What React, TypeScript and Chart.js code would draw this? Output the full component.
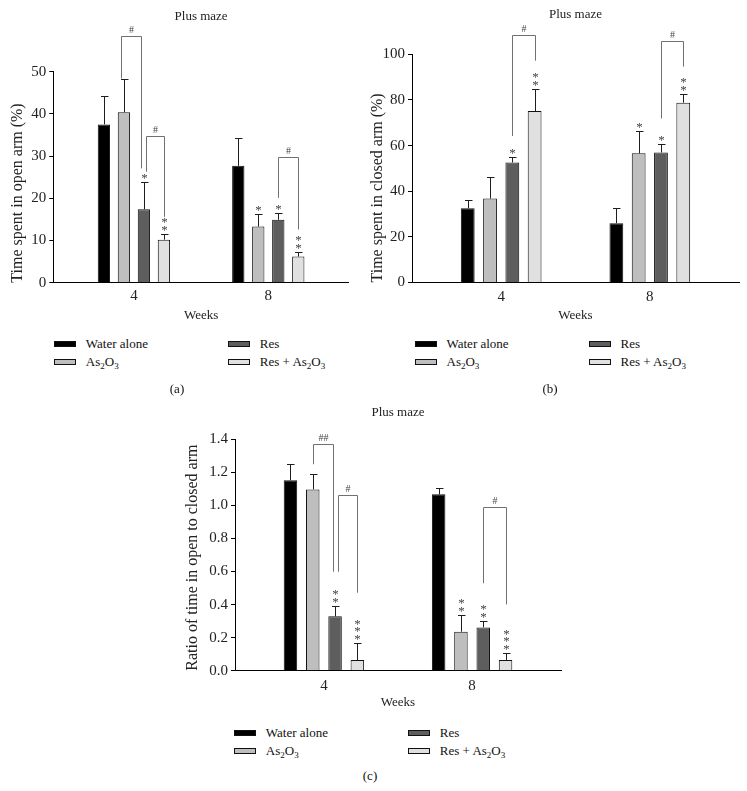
import React, { useEffect, useRef } from 'react';
import { Chart, registerables } from 'chart.js';

Chart.register(...registerables);

const FONT = '"Liberation Serif", "Times New Roman", serif';
Chart.defaults.font.family = FONT;
Chart.defaults.color = '#222';

// ---------- shared ----------
const weekLabels = ['4', '8'];
const seriesNames = ['Water alone', 'As2O3', 'Res', 'Res + As2O3'];
const seriesColors = ['#000000', '#bebebe', '#5e5e5e', '#e0e0e0'];

// ---------- panel (a): time spent in open arm (%) ----------
const openWater = [37.5, 27.7];
const openAs2O3 = [40.4, 13.3];
const openRes = [17.4, 14.9];
const openResAs2O3 = [10.2, 6.2];
const openWaterSem = [6.7, 6.5];
const openAs2O3Sem = [7.8, 3.0];
const openResSem = [6.4, 1.7];
const openResAs2O3Sem = [1.3, 1.0];
const openStars = [[0, 0], [0, 1], [1, 1], [2, 2]];
const openTicks = [0, 10, 20, 30, 40, 50];
const openBrackets = [
  { week: 0, from: 1, to: 2, top: 58.5, fromEnd: 48.4, toEnd: 27.1, label: '#', fromSide: -1, toSide: -1 },
  { week: 0, from: 2, to: 3, top: 34.8, fromEnd: 26.3, toEnd: 15.6, label: '#', fromSide: 1, toSide: 0 },
  { week: 1, from: 2, to: 3, top: 29.9, fromEnd: 20.1, toEnd: 12.6, label: '#', fromSide: 0, toSide: 0 },
];

// ---------- panel (b): time spent in closed arm (%) ----------
const closedWater = [32.5, 26.0];
const closedAs2O3 = [36.8, 56.6];
const closedRes = [52.6, 57.0];
const closedResAs2O3 = [75.1, 78.8];
const closedWaterSem = [3.6, 6.5];
const closedAs2O3Sem = [9.4, 9.9];
const closedResSem = [2.5, 3.5];
const closedResAs2O3Sem = [9.8, 3.7];
const closedStars = [[0, 0], [0, 1], [1, 1], [2, 2]];
const closedTicks = [0, 20, 40, 60, 80, 100];
const closedBrackets = [
  { week: 0, from: 2, to: 3, top: 108.3, fromEnd: 64.2, toEnd: 97.2, label: '#', fromSide: 0, toSide: 0 },
  { week: 1, from: 2, to: 3, top: 105.8, fromEnd: 71.9, toEnd: 94.6, label: '#', fromSide: 0, toSide: 0 },
];

// ---------- panel (c): ratio open / closed ----------
const ratioWater = [1.152, 1.067];
const ratioAs2O3 = [1.097, 0.236];
const ratioRes = [0.329, 0.262];
const ratioResAs2O3 = [0.065, 0.065];
const ratioWaterSem = [0.101, 0.041];
const ratioAs2O3Sem = [0.095, 0.099];
const ratioResSem = [0.064, 0.037];
const ratioResAs2O3Sem = [0.1, 0.04];
const ratioStars = [[0, 0], [0, 2], [2, 2], [3, 3]];
const ratioTicks = [0, 0.2, 0.4, 0.6, 0.8, 1.0, 1.2, 1.4];
const ratioBrackets = [
  { week: 0, from: 1, to: 2, top: 1.37, fromEnd: 1.249, toEnd: 0.599, label: '##', fromSide: 0, toSide: -1 },
  { week: 0, from: 2, to: 3, top: 1.061, fromEnd: 0.599, toEnd: 0.472, label: '#', fromSide: 1, toSide: 0 },
  { week: 1, from: 2, to: 3, top: 0.99, fromEnd: 0.529, toEnd: 0.401, label: '#', fromSide: 0, toSide: 0 },
];

// category slots used to place the two week groups along the axis
const SLOT_COUNT = 12;
const WEEK_SLOTS = [3, 8];
function toSlots(vals: any[], fill: any) {
  const arr = new Array(SLOT_COUNT).fill(fill);
  WEEK_SLOTS.forEach((s, i) => { arr[s] = vals[i]; });
  return arr;
}

const panels = [
  {
    key: 'a',
    values: [openWater, openAs2O3, openRes, openResAs2O3],
    errors: [openWaterSem, openAs2O3Sem, openResSem, openResAs2O3Sem],
    stars: openStars, brackets: openBrackets, yTicks: openTicks, decimals: 0,
    yTitle: 'Time spent in open arm (%)',
    box: { left: 0, top: 0, width: 370, height: 330 },
    pad: { left: 7.9, right: 21.1, top: 0, bottom: 6.2 },
    yWidth: 45.4, xHeight: 41.1, titlePad: { top: 8.9, bottom: 47.2 }, tickPad: 4,
    catPct: 2.977, barPct: 0.615,
  },
  {
    key: 'b',
    values: [closedWater, closedAs2O3, closedRes, closedResAs2O3],
    errors: [closedWaterSem, closedAs2O3Sem, closedResSem, closedResAs2O3Sem],
    stars: closedStars, brackets: closedBrackets, yTicks: closedTicks, decimals: 0,
    yTitle: 'Time spent in closed arm (%)',
    box: { left: 365, top: 0, width: 382, height: 330 },
    pad: { left: 3.4, right: 8, top: 0, bottom: 6.2 },
    yWidth: 43.6, xHeight: 41.3, titlePad: { top: 7.2, bottom: 31.5 }, tickPad: 6,
    catPct: 3.0, barPct: 0.619,
  },
  {
    key: 'c',
    values: [ratioWater, ratioAs2O3, ratioRes, ratioResAs2O3],
    errors: [ratioWaterSem, ratioAs2O3Sem, ratioResSem, ratioResAs2O3Sem],
    stars: ratioStars, brackets: ratioBrackets, yTicks: ratioTicks, decimals: 1,
    yTitle: 'Ratio of time in open to closed arm',
    box: { left: 175, top: 380, width: 400, height: 335 },
    pad: { left: 7.9, right: 14, top: 0, bottom: 4.2 },
    yWidth: 52.1, xHeight: 40.1, titlePad: { top: 24.5, bottom: 19.2 }, tickPad: 6,
    catPct: 3.01, barPct: 0.605,
  },
];

function makeAnnotPlugin(def: any) {
  return {
    id: 'sigAnnot',
    afterDatasetsDraw(chart: any) {
      const ctx = chart.ctx;
      const ys = chart.scales.y;
      const barX = (s: number, w: number) => chart.getDatasetMeta(s).data[WEEK_SLOTS[w]].x;
      ctx.save();
      // error bars + stars
      def.values.forEach((vals: number[], s: number) => {
        vals.forEach((v: number, w: number) => {
          const x = Math.round(barX(s, w)) + 0.5;
          const yTop = ys.getPixelForValue(v);
          const yErr = Math.round(ys.getPixelForValue(v + def.errors[s][w])) + 0.5;
          ctx.strokeStyle = '#1e1e1e';
          ctx.lineWidth = 1;
          ctx.beginPath();
          ctx.moveTo(x, yTop);
          ctx.lineTo(x, yErr);
          ctx.moveTo(x - 3.5, yErr);
          ctx.lineTo(x + 4, yErr);
          ctx.stroke();
          const n = def.stars[s][w];
          ctx.fillStyle = '#444';
          ctx.font = `13px ${FONT}`;
          ctx.textAlign = 'center';
          ctx.textBaseline = 'middle';
          for (let k = 0; k < n; k++) {
            ctx.fillText('*', x, yErr - 6.5 - k * 7.7 + 2.5);
          }
        });
      });
      // brackets
      def.brackets.forEach((b: any) => {
        const x1 = Math.round(barX(b.from, b.week) + b.fromSide * 2.5) + 0.5;
        const x2 = Math.round(barX(b.to, b.week) + b.toSide * 2.5) + 0.5;
        const yT = Math.round(ys.getPixelForValue(b.top)) + 0.5;
        ctx.strokeStyle = '#707070';
        ctx.lineWidth = 1;
        ctx.beginPath();
        ctx.moveTo(x1, ys.getPixelForValue(b.fromEnd));
        ctx.lineTo(x1, yT);
        ctx.lineTo(x2, yT);
        ctx.lineTo(x2, ys.getPixelForValue(b.toEnd));
        ctx.stroke();
        ctx.fillStyle = '#444';
        ctx.font = `10px ${FONT}`;
        ctx.textAlign = 'center';
        ctx.textBaseline = 'alphabetic';
        ctx.fillText(b.label, (x1 + x2) / 2, yT - 3.5);
      });
      ctx.restore();
    },
  };
}

function buildConfig(def: any) {
  const labels = toSlots(weekLabels, '');
  const yMin = def.yTicks[0];
  const yMax = def.yTicks[def.yTicks.length - 1];
  const yStep = def.yTicks[1] - def.yTicks[0];
  return {
    type: 'bar',
    data: {
      labels,
      datasets: def.values.map((vals: number[], i: number) => ({
        label: seriesNames[i],
        data: toSlots(vals, null),
        backgroundColor: seriesColors[i],
        borderColor: '#111',
        borderWidth: 1,
        categoryPercentage: def.catPct,
        barPercentage: def.barPct,
      })),
    },
    options: {
      responsive: false,
      animation: false,
      devicePixelRatio: 1,
      layout: { padding: def.pad },
      plugins: {
        legend: { display: false },
        tooltip: { enabled: false },
        title: {
          display: true,
          fullSize: false,
          text: 'Plus maze',
          color: '#222',
          font: { family: FONT, size: 13, weight: 'normal' },
          padding: def.titlePad,
        },
      },
      scales: {
        x: {
          offset: false,
          grid: { display: false, drawTicks: false },
          border: { display: true, color: '#000', width: 1 },
          ticks: {
            autoSkip: false,
            maxRotation: 0,
            padding: def.tickPad,
            color: '#222',
            font: { family: FONT, size: 15 },
          },
          title: {
            display: true,
            text: 'Weeks',
            color: '#222',
            font: { family: FONT, size: 13 },
            padding: { top: 0, bottom: 0 },
          },
          afterFit: (s: any) => { s.height = def.xHeight; },
        },
        y: {
          min: yMin,
          max: yMax,
          grid: { drawOnChartArea: false, drawTicks: true, tickLength: 4, color: '#000' },
          border: { display: true, color: '#000', width: 1 },
          ticks: {
            stepSize: yStep,
            padding: 3,
            color: '#222',
            font: { family: FONT, size: 15 },
            callback: (v: any) => Number(v).toFixed(def.decimals),
          },
          title: {
            display: true,
            text: def.yTitle,
            align: 'start',
            color: '#222',
            font: { family: FONT, size: 16 },
            padding: { top: 0, bottom: 0 },
          },
          afterFit: (s: any) => { s.width = def.yWidth; },
        },
      },
    },
    plugins: [makeAnnotPlugin(def)],
  };
}

function PanelChart({ def }: { def: any }) {
  const ref = useRef<HTMLCanvasElement | null>(null);
  useEffect(() => {
    const chart = new Chart(ref.current as HTMLCanvasElement, buildConfig(def) as any);
    return () => chart.destroy();
  }, [def]);
  return (
    <canvas
      ref={ref}
      width={def.box.width}
      height={def.box.height}
      style={{
        position: 'absolute',
        left: def.box.left,
        top: def.box.top,
        width: def.box.width,
        height: def.box.height,
        display: 'block',
      }}
    />
  );
}

function renderName(name: string) {
  return name.split(/(\d)/).map((part, i) =>
    /^\d$/.test(part) ? (
      <sub key={i} style={{ fontSize: '9px', verticalAlign: '-3px', lineHeight: 0 }}>{part}</sub>
    ) : (
      <React.Fragment key={i}>{part}</React.Fragment>
    )
  );
}

const legendOrder = [
  { s: 0, col: 0, row: 0 },
  { s: 1, col: 0, row: 1 },
  { s: 2, col: 1, row: 0 },
  { s: 3, col: 1, row: 1 },
];

function LegendBlock({ left, top }: { left: number; top: number }) {
  return (
    <>
      {legendOrder.map(({ s, col, row }) => {
        const x = left + col * 174;
        const y = top + row * 18;
        return (
          <React.Fragment key={s}>
            <div
              style={{
                position: 'absolute',
                left: x,
                top: y - 3,
                width: 22,
                height: 6,
                boxSizing: 'border-box',
                border: '1px solid #111',
                background: seriesColors[s],
              }}
            />
            <div
              style={{
                position: 'absolute',
                left: x + 31.5,
                top: y - 9,
                height: 18,
                lineHeight: '18px',
                fontFamily: FONT,
                fontSize: 13,
                color: '#111',
                whiteSpace: 'nowrap',
              }}
            >
              {renderName(seriesNames[s])}
            </div>
          </React.Fragment>
        );
      })}
    </>
  );
}

function PanelLabel({ text, cx, cy }: { text: string; cx: number; cy: number }) {
  return (
    <div
      style={{
        position: 'absolute',
        left: cx - 20,
        top: cy - 9,
        width: 40,
        height: 18,
        lineHeight: '18px',
        textAlign: 'center',
        fontFamily: FONT,
        fontSize: 13,
        color: '#111',
      }}
    >
      {text}
    </div>
  );
}

export default function App() {
  return (
    <div
      style={{
        position: 'absolute',
        left: 0,
        top: 0,
        width: 747,
        height: 791,
        background: '#fff',
        overflow: 'hidden',
      }}
    >
      {panels.map((p) => (
        <PanelChart key={p.key} def={p} />
      ))}
      <LegendBlock left={54.3} top={344} />
      <LegendBlock left={415} top={344} />
      <LegendBlock left={234.3} top={733.3} />
      <PanelLabel text="(a)" cx={177} cy={389} />
      <PanelLabel text="(b)" cx={550} cy={389} />
      <PanelLabel text="(c)" cx={370} cy={776} />
    </div>
  );
}
